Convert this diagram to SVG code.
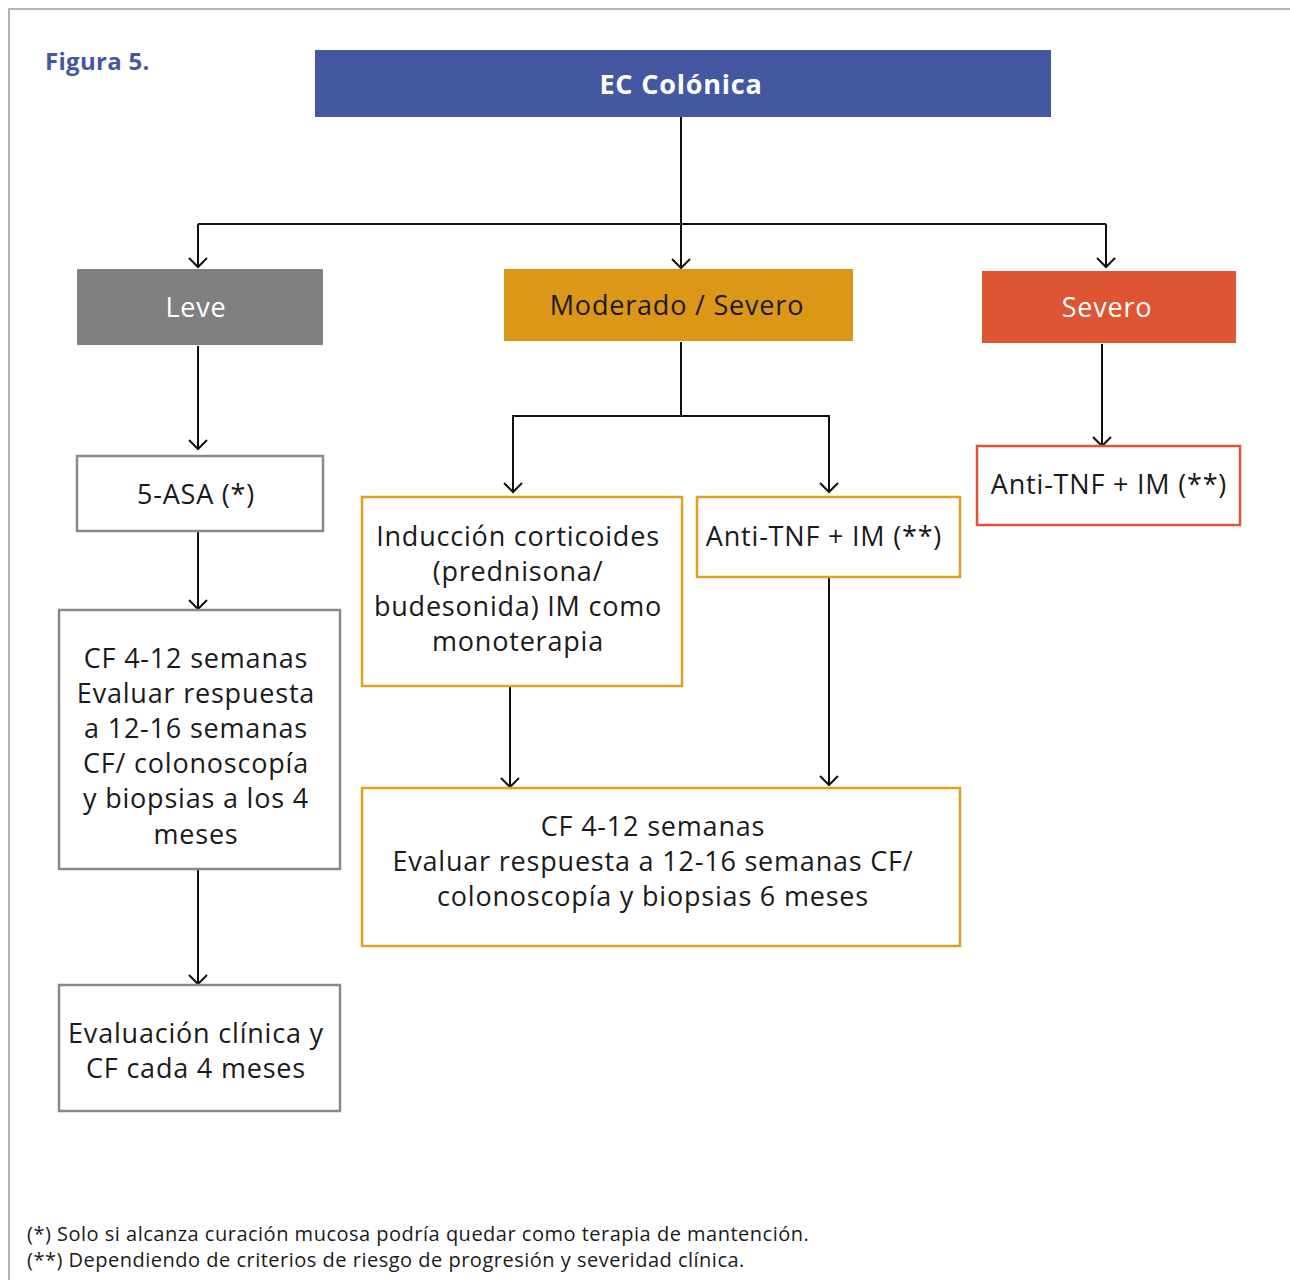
<svg xmlns="http://www.w3.org/2000/svg" width="1290" height="1280" viewBox="0 0 1290 1280">
  <style>
    .lbl { font-family: "Open Sans", "Liberation Sans", sans-serif; font-size: 27px; letter-spacing: 0.8px; fill: #1a1a1a; text-anchor: middle; dominant-baseline: central; }
    .white { fill: #ffffff; }
    .edge { fill: none; stroke: #111111; stroke-width: 2; }
    .box-grey { fill: #ffffff; stroke: #8a8a8a; stroke-width: 2.5; }
    .box-amber { fill: #ffffff; stroke: #E0A020; stroke-width: 2.5; }
    .box-red { fill: #ffffff; stroke: #DF5431; stroke-width: 2.5; }
    .note { font-family: "Open Sans", "Liberation Sans", sans-serif; font-size: 20px; letter-spacing: 0.5px; fill: #1a1a1a; }
  </style>
  <defs>
    <marker id="arrow" markerUnits="userSpaceOnUse" markerWidth="24" markerHeight="24" viewBox="-12 -12 24 24" refX="0" refY="0" orient="auto">
      <path d="M-9,-9 L0,0 L-9,9" fill="none" stroke="#111111" stroke-width="2"/>
    </marker>
  </defs>

  <rect width="1290" height="1280" fill="#ffffff"/>
  <!-- page frame -->
  <path d="M9,1280 V9 H1290" fill="none" stroke="#9a9a9a" stroke-width="1.5"/>

  <text x="45" y="70" font-family="Open Sans, Liberation Sans, sans-serif" font-size="24" letter-spacing="0.3" font-weight="bold" fill="#4458A2">Figura 5.</text>

  <!-- connectors -->
  <g id="connectors">
    <path class="edge" d="M681,117 V268" marker-end="url(#arrow)"/>
    <path class="edge" d="M198,224 H1106"/>
    <path class="edge" d="M198,224 V267" marker-end="url(#arrow)"/>
    <path class="edge" d="M1106,224 V267" marker-end="url(#arrow)"/>
    <path class="edge" d="M198,346 V449" marker-end="url(#arrow)"/>
    <path class="edge" d="M198,532 V609" marker-end="url(#arrow)"/>
    <path class="edge" d="M198,870 V984" marker-end="url(#arrow)"/>
    <path class="edge" d="M681,342 V416 H513 V492" marker-end="url(#arrow)"/>
    <path class="edge" d="M681,416 H829 V492" marker-end="url(#arrow)"/>
    <path class="edge" d="M510,686 V787" marker-end="url(#arrow)"/>
    <path class="edge" d="M829,578 V785" marker-end="url(#arrow)"/>
    <path class="edge" d="M1102,344 V446" marker-end="url(#arrow)"/>
  </g>

  <g id="ec-colonica">
    <rect x="315" y="50" width="736" height="67" fill="#4458A2"/>
    <text class="lbl white" x="681" y="83" font-weight="bold" font-size="29" letter-spacing="1">EC Colónica</text>
  </g>

  <g id="leve">
    <rect x="77" y="269" width="246" height="76" fill="#808080"/>
    <text class="lbl white" x="196" y="306">Leve</text>
  </g>

  <g id="moderado-severo">
    <rect x="504" y="269" width="349" height="72" fill="#DC9618"/>
    <text class="lbl" x="677" y="304">Moderado / Severo</text>
  </g>

  <g id="severo">
    <rect x="982" y="271" width="254" height="72" fill="#DF5431"/>
    <text class="lbl white" x="1107" y="306">Severo</text>
  </g>

  <g id="asa">
    <rect class="box-grey" x="77" y="456" width="246" height="75"/>
    <text class="lbl" x="196" y="493">5-ASA (*)</text>
  </g>

  <g id="cf-leve">
    <rect class="box-grey" x="59" y="610" width="281" height="259"/>
    <text class="lbl" x="196" y="657">CF 4-12 semanas</text>
    <text class="lbl" x="196" y="692">Evaluar respuesta</text>
    <text class="lbl" x="196" y="727">a 12-16 semanas</text>
    <text class="lbl" x="196" y="762">CF/ colonoscopía</text>
    <text class="lbl" x="196" y="797">y biopsias a los 4</text>
    <text class="lbl" x="196" y="833">meses</text>
  </g>

  <g id="evaluacion">
    <rect class="box-grey" x="59" y="985" width="281" height="126"/>
    <text class="lbl" x="196" y="1032">Evaluación clínica y</text>
    <text class="lbl" x="196" y="1067">CF cada 4 meses</text>
  </g>

  <g id="induccion">
    <rect class="box-amber" x="362" y="497" width="320" height="189"/>
    <text class="lbl" x="518" y="535">Inducción corticoides</text>
    <text class="lbl" x="518" y="570">(prednisona/</text>
    <text class="lbl" x="518" y="605">budesonida) IM como</text>
    <text class="lbl" x="518" y="640">monoterapia</text>
  </g>

  <g id="antitnf-mod">
    <rect class="box-amber" x="697" y="497" width="263" height="80"/>
    <text class="lbl" x="824" y="535">Anti-TNF + IM (**)</text>
  </g>

  <g id="cf-mod">
    <rect class="box-amber" x="362" y="788" width="598" height="158"/>
    <text class="lbl" x="653" y="825">CF 4-12 semanas</text>
    <text class="lbl" x="653" y="860">Evaluar respuesta a 12-16 semanas CF/</text>
    <text class="lbl" x="653" y="895">colonoscopía y biopsias 6 meses</text>
  </g>

  <g id="antitnf-sev">
    <rect class="box-red" x="977" y="446" width="263" height="79"/>
    <text class="lbl" x="1109" y="483">Anti-TNF + IM (**)</text>
  </g>

  <text class="note" x="27" y="1241">(*) Solo si alcanza curación mucosa podría quedar como terapia de mantención.</text>
  <text class="note" x="27" y="1267">(**) Dependiendo de criterios de riesgo de progresión y severidad clínica.</text>
</svg>
